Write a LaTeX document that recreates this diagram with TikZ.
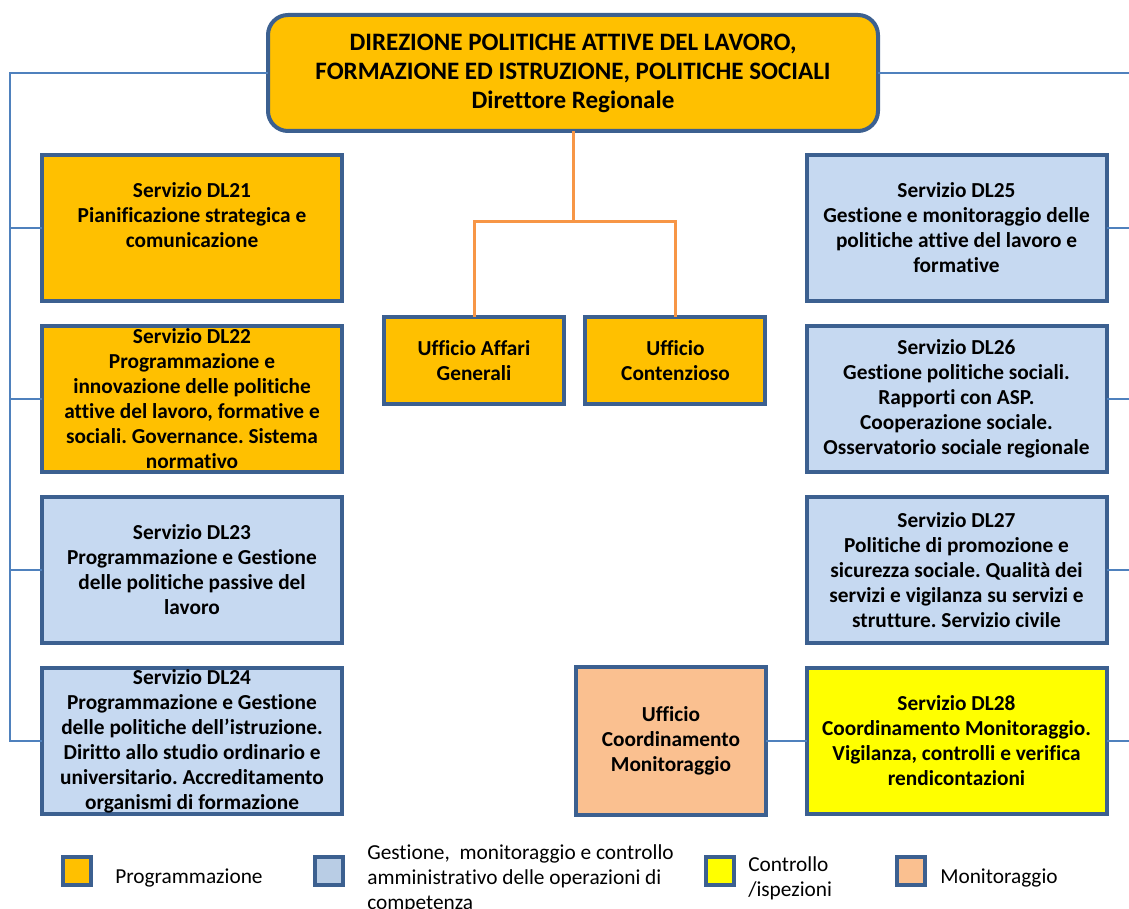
\documentclass[tikz,border=0pt]{standalone}
\usepackage{fontspec}
\setmainfont{Carlito}[Ligatures=NoCommon]
\definecolor{rgorange}{HTML}{FFC000}
\definecolor{rgblue}{HTML}{C6D9F1}
\definecolor{rglegblue}{HTML}{B9CDE5}
\definecolor{rgyellow}{HTML}{FFFF00}
\definecolor{rgsalmon}{HTML}{FAC090}
\definecolor{rgedge}{HTML}{3C6090}
\definecolor{rglink}{HTML}{4F81BD}
\definecolor{rgstaff}{HTML}{F79646}
\usetikzlibrary{positioning}
\frenchspacing

\begin{document}
\begin{tikzpicture}[x=0.75pt,y=-0.75pt,
  unit/.style={draw=rgedge,line width=3pt,fill=rgorange,align=center,outer sep=0pt,
    font=\bfseries\fontsize{16}{18.75}\selectfont,inner xsep=0pt,inner ysep=0pt,
    minimum width=225pt,minimum height=109.5pt},
  office/.style={unit,minimum width=135pt,minimum height=65.25pt},
  head/.style={unit,rounded corners=15pt,minimum width=457.5pt,minimum height=87pt,
    font=\bfseries\fontsize{18.8}{21.75}\selectfont},
  legsq/.style={draw=rgedge,line width=3pt,minimum size=21pt,inner sep=0pt,outer sep=0pt},
  legtxt/.style={font=\fontsize{16}{18.75}\selectfont,align=left,inner sep=0pt,yshift=-5.5pt},
  link/.style={rglink,line width=1.1pt},
  stafflink/.style={rgstaff,line width=2.25pt}]
  \useasboundingbox (0,0) rectangle (1129,909);
  % direzione
  \node[head] (dir) at (573,73) {DIREZIONE POLITICHE ATTIVE DEL LAVORO,\\
    FORMAZIONE ED ISTRUZIONE, POLITICHE SOCIALI\\Direttore Regionale};
  % left column
  \node[unit] (dl21) at (192,228) {Servizio DL21\\Pianificazione strategica e\\comunicazione\\\mbox{}};
  \node[unit,below=18.75pt of dl21] (dl22) {Servizio DL22\\Programmazione e\\innovazione delle politiche\\
    attive del lavoro, formative e\\sociali. Governance. Sistema\\normativo};
  \node[unit,below=18.75pt of dl22,fill=rgblue] (dl23) {Servizio DL23\\Programmazione e Gestione\\
    delle politiche passive del\\lavoro};
  \node[unit,below=18.75pt of dl23,fill=rgblue] (dl24) {Servizio DL24\\Programmazione e Gestione\\
    delle politiche dell'istruzione.\\Diritto allo studio ordinario e\\universitario. Accreditamento\\
    organismi di formazione};
  % right column
  \node[unit,fill=rgblue] (dl25) at (956.5,228) {Servizio DL25\\Gestione e monitoraggio delle\\
    politiche attive del lavoro e\\formative};
  \node[unit,below=18.75pt of dl25,fill=rgblue] (dl26) {Servizio DL26\\Gestione politiche sociali.\\
    Rapporti con ASP.\\Cooperazione sociale.\\Osservatorio sociale regionale};
  \node[unit,below=18.75pt of dl26,fill=rgblue] (dl27) {Servizio DL27\\Politiche di promozione e\\
    sicurezza sociale. Qualità dei\\servizi e vigilanza su servizi e\\strutture. Servizio civile};
  \node[unit,below=18.75pt of dl27,fill=rgyellow] (dl28) {Servizio DL28\\Coordinamento Monitoraggio.\\
    Vigilanza, controlli e verifica\\rendicontazioni};
  \node[unit,left=30.4pt of dl28,fill=rgsalmon,minimum width=142.5pt,minimum height=111pt] (ucm)
    {Ufficio\\Coordinamento\\Monitoraggio};
  % staff offices
  \node[office] (uag) at (474,360.5) {Ufficio Affari\\Generali};
  \node[office,right=16.1pt of uag] (ucont) {Ufficio\\Contenzioso};

  \coordinate (lbus) at (10,73);
  \coordinate (rbus) at (1129,73);
  \draw[link] (dir.west) -- (lbus) |- (dl24.west);
  \draw[link] (dl21.west) -- (dl21.west -| lbus);
  \draw[link] (dl22.west) -- (dl22.west -| lbus);
  \draw[link] (dl23.west) -- (dl23.west -| lbus);
  \draw[link] (dir.east) -- (rbus);
  \draw[link] (dl25.east) -- (dl25.east -| rbus);
  \draw[link] (dl26.east) -- (dl26.east -| rbus);
  \draw[link] (dl27.east) -- (dl27.east -| rbus);
  \draw[link] (dl28.east) -- (dl28.east -| rbus);
  \draw[link] (ucm.east) -- (dl28.west);
  \draw[stafflink] (dir.south) -- ++(0,91) coordinate (fork) -| (uag.north);
  \draw[stafflink] (fork) -| (ucont.north);

  % legend
  \node[legsq,fill=rgorange] (lg1) at (77,871) {};
  \node[legtxt,right=18pt of lg1] (lt1) {Programmazione};
  \node[legsq,fill=rglegblue] (lg2) at (328.5,871) {};
  \node[legtxt,right=18.4pt of lg2] (lt2) {Gestione,\ \ monitoraggio e controllo\\
    amministrativo delle operazioni di\\competenza};
  \node[legsq,fill=rgyellow] (lg3) at (720,871) {};
  \node[legtxt,right=10.5pt of lg3] (lt3) {Controllo\\/ispezioni};
  \node[legsq,fill=rgsalmon] (lg4) at (911,871) {};
  \node[legtxt,right=11.25pt of lg4] (lt4) {Monitoraggio};
\end{tikzpicture}
\end{document}
